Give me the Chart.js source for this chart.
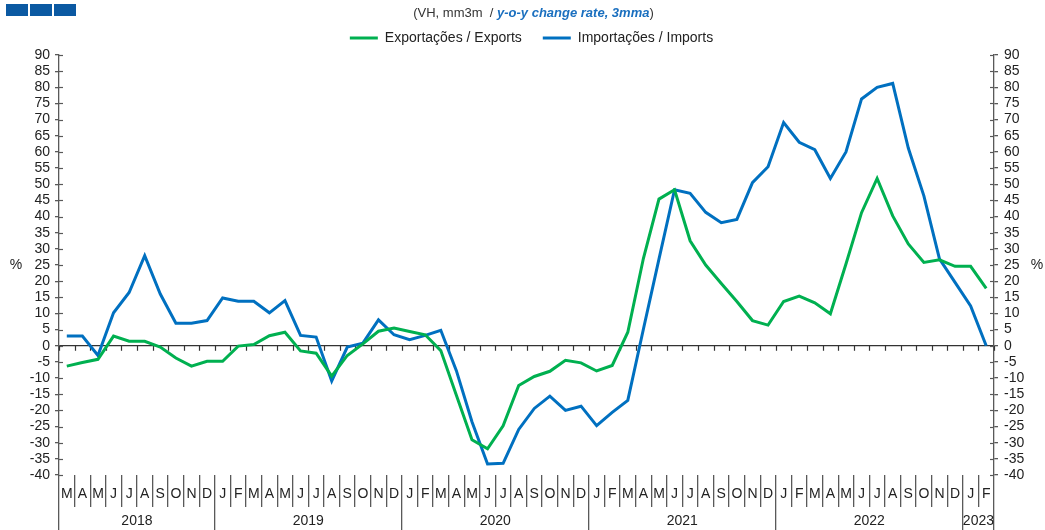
<!DOCTYPE html>
<html>
<head>
<meta charset="utf-8">
<script src="https://cdn.jsdelivr.net/npm/chart.js@4/dist/chart.umd.min.js"></script>
<style>
html,body{margin:0;padding:0;background:#fff;}
#wrap{position:relative;width:1045px;height:530px;overflow:hidden;}
#logo{position:absolute;left:6px;top:4px;height:12px;font-size:0;}
#logo span{display:inline-block;width:22px;height:12px;background:#0b59a2;margin-right:2px;}
#title{position:absolute;top:5px;left:22px;width:1023px;text-align:center;font:13px "Liberation Sans",Arial,sans-serif;color:#333;line-height:15px;white-space:pre;}
#title b{color:#1a6fbf;font-style:italic;}
canvas{position:absolute;left:0;top:0;}
</style>
</head>
<body>
<div id="wrap">
  <canvas id="c" width="1045" height="530"></canvas>
  <div id="logo"><span></span><span></span><span></span></div>
  <div id="title">(VH, mm3m  / <b>y-o-y change rate, 3mma</b>)</div>
</div>
<script>
// ---- data ----
const months = [
  'M','A','M','J','J','A','S','O','N','D',
  'J','F','M','A','M','J','J','A','S','O','N','D',
  'J','F','M','A','M','J','J','A','S','O','N','D',
  'J','F','M','A','M','J','J','A','S','O','N','D',
  'J','F','M','A','M','J','J','A','S','O','N','D',
  'J','F'
];
const years = ['2018','2019','2020','2021','2022','2023'];
const yearMonths = [10,12,12,12,12,2];
const exportsData = [
  -6.3,-5.2,-4.2,3.0,1.4,1.4,-0.4,-3.8,-6.3,-4.8,
  -4.8,-0.1,0.4,3.1,4.2,-1.6,-2.3,-9.4,-3.0,0.6,4.5,5.5,
  4.4,3.4,-1.5,-15.3,-29.1,-31.9,-24.8,-12.3,-9.5,-7.9,-4.5,-5.3,
  -7.8,-6.1,4.2,27.0,45.4,48.3,32.5,25.0,19.3,13.7,7.8,6.4,
  13.7,15.4,13.3,9.9,25.3,41.2,51.8,40.2,31.5,25.8,26.6,24.6,
  24.6,17.8
];
const importsData = [
  3.0,3.0,-3.0,10.2,16.5,27.9,16.0,7.0,7.0,7.8,
  14.8,13.8,13.8,10.2,14.0,3.2,2.7,-10.9,-0.4,0.8,8.0,3.4,
  1.9,3.2,4.8,-7.7,-23.5,-36.6,-36.4,-25.9,-19.4,-15.6,-20.0,-18.7,
  -24.7,-20.6,-16.9,5.1,26.8,48.3,47.2,41.3,38.1,39.1,50.5,55.4,
  69.1,63.0,60.7,51.8,60.0,76.4,80.0,81.2,61.2,46.4,26.9,19.6,
  12.3,0.0
];
const seriesNames = ['Exportações / Exports','Importações / Imports'];
const yMin = -40, yMax = 90, yStep = 5;
const unitLabel = '%';
const unitLevel = 25;

// year boundaries / centres (in month-index units)
const yearBounds = [-0.5];
const yearCentres = [];
(function(){ let acc = 0; yearMonths.forEach(n => { yearCentres.push(acc + n/2 - 0.5); acc += n; yearBounds.push(acc - 0.5); }); })();
const yearTickValues = yearBounds.concat(yearCentres).sort((a,b)=>a-b);

const FONT = '"Liberation Sans", Arial, sans-serif';
Chart.defaults.font.family = FONT;
Chart.defaults.font.size = 14;
Chart.defaults.color = '#222';

const AXIS = '#595959';

const decor = {
  id: 'decor',
  beforeDatasetsDraw(chart){
    const {ctx, scales:{y, y2, xYear}} = chart;
    ctx.save();
    ctx.strokeStyle = AXIS; ctx.lineWidth = 1.2;
    y.ticks.forEach(t => {
      const py = Math.round(y.getPixelForValue(t.value)) + 0.5;
      ctx.beginPath(); ctx.moveTo(y.right, py); ctx.lineTo(y.right + 4, py); ctx.stroke();
    });
    y2.ticks.forEach(t => {
      const py = Math.round(y2.getPixelForValue(t.value)) + 0.5;
      ctx.beginPath(); ctx.moveTo(y2.left, py); ctx.lineTo(y2.left - 4, py); ctx.stroke();
    });
    const p0 = y.getPixelForValue(0);
    ctx.strokeStyle = '#333';
    for (let i = 0; i <= months.length; i++) {
      const px = Math.round(xYear.getPixelForValue(i - 0.5)) + 0.5;
      ctx.beginPath(); ctx.moveTo(px, p0); ctx.lineTo(px, p0 + 5); ctx.stroke();
    }
    ctx.fillStyle = '#222';
    ctx.font = '14px ' + FONT;
    ctx.textAlign = 'center'; ctx.textBaseline = 'middle';
    ctx.fillText(unitLabel, y.left - 2, y.getPixelForValue(unitLevel));
    ctx.fillText(unitLabel, y2.right - 8, y2.getPixelForValue(unitLevel));
    ctx.restore();
  }
};

new Chart(document.getElementById('c'), {
  type: 'line',
  data: {
    labels: months,
    datasets: [
      { label: seriesNames[0], data: exportsData, borderColor: '#00b050', backgroundColor: '#00b050',
        borderWidth: 3, pointRadius: 0, tension: 0, xAxisID: 'x', yAxisID: 'y' },
      { label: seriesNames[1], data: importsData, borderColor: '#0070c0', backgroundColor: '#0070c0',
        borderWidth: 3, pointRadius: 0, tension: 0, xAxisID: 'x', yAxisID: 'y' }
    ]
  },
  options: {
    responsive: false,
    animation: false,
    layout: { padding: { top: 10, left: 18, right: 0, bottom: 0 } },
    plugins: {
      legend: {
        position: 'top',
        labels: { usePointStyle: true, pointStyle: 'line', pointStyleWidth: 28, boxHeight: 14,
                  padding: 21, color: '#222', font: { size: 14 } }
      },
      tooltip: { enabled: false },
      title: { display: false }
    },
    scales: {
      x: {
        type: 'category', position: 'bottom', offset: true, weight: 0,
        border: { display: false },
        grid: { display: true, drawOnChartArea: false, offset: true, tickLength: 32, color: AXIS, lineWidth: 1.3 },
        ticks: { autoSkip: false, maxRotation: 0, minRotation: 0, padding: -21, color: '#222', font: { size: 14 } },
        afterFit: s => { s.height = 32; }
      },
      xYear: {
        type: 'linear', position: 'bottom', min: -0.5, max: 59.5, offset: false, weight: 1,
        afterBuildTicks: s => { s.ticks = yearTickValues.map(v => ({ value: v })); },
        border: { display: false },
        grid: { display: true, drawOnChartArea: false, tickLength: 23, lineWidth: 1.3,
          color: c => (c.tick && yearBounds.includes(c.tick.value)) ? AXIS : 'rgba(0,0,0,0)',
          tickColor: c => (c.tick && yearBounds.includes(c.tick.value)) ? AXIS : 'rgba(0,0,0,0)' },
        ticks: { autoSkip: false, maxRotation: 0, minRotation: 0, padding: -17, color: '#222', font: { size: 14 },
          callback: v => { const k = yearCentres.indexOf(v); return k >= 0 ? years[k] : ''; } },
        afterFit: s => { s.height = 23; }
      },
      y: {
        position: 'left', min: yMin, max: yMax,
        border: { display: true, color: AXIS, width: 1.3 },
        grid: { drawOnChartArea: true, tickLength: 4, tickColor: AXIS, lineWidth: 1.3,
          color: c => (c.tick && c.tick.value === 0) ? '#333' : 'rgba(0,0,0,0)' },
        ticks: { stepSize: yStep, autoSkip: false, padding: 5, color: '#222', font: { size: 14 } },
        afterFit: s => { s.width = 41; }
      },
      y2: {
        position: 'right', min: yMin, max: yMax,
        border: { display: true, color: AXIS, width: 1.3 },
        grid: { drawOnChartArea: false, tickLength: 4, tickColor: AXIS, lineWidth: 1.3 },
        ticks: { stepSize: yStep, autoSkip: false, padding: 6, color: '#222', font: { size: 14 } },
        afterFit: s => { s.width = 51; }
      }
    }
  },
  plugins: [decor]
});
</script>
</body>
</html>
